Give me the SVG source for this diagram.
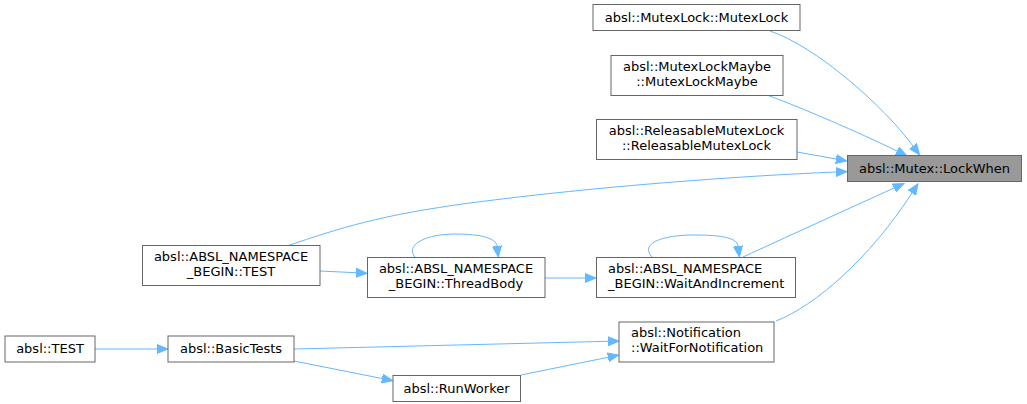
<svg xmlns="http://www.w3.org/2000/svg" width="1027" height="404" viewBox="0 0 1027 404">
<style>
.n rect{fill:#ffffff;stroke:#666666;stroke-width:1}
.n.hl rect{fill:#999999}
.n text{font-family:"DejaVu Sans",sans-serif;font-size:13px;fill:#000000}
.c{text-anchor:middle}
.e path{fill:none;stroke:#63b8ff;stroke-width:1;marker-end:url(#ah)}
</style>
<defs>
<marker id="ah" markerUnits="userSpaceOnUse" markerWidth="12" markerHeight="10" refX="0" refY="5" orient="auto">
<path d="M0,0.5 L11,5 L0,9.5 z" fill="#63b8ff" stroke="#63b8ff" stroke-width="1"/>
</marker>
</defs>
<g id="edges" class="e">
<path d="M770,31 C815,46 882,104 913,146"/>
<path d="M767,95 C800,107 860,133 897,151"/>
<path d="M797,152 L836,159"/>
<path d="M287,246 C340,228 380,215 470,203 C600,186 740,176 836,172"/>
<path d="M743,257 C780,240 850,208 894,188"/>
<path d="M776,321 C815,306 870,258 912,193"/>
<path d="M320,271 L356,272.7"/>
<path d="M415,257 C405,245 425,234 456,234 C480,234 496,238 497,246"/>
<path d="M545,278 L585,278"/>
<path d="M652,257 C640,244 660,235 695,235 C722,235 737,238 738,246"/>
<path d="M95,349 L157,349"/>
<path d="M294,361 L382,378.5"/>
<path d="M294,349 L608,341.3"/>
<path d="M521,375 L608,357.3"/>
</g>
<g id="node-lockwhen" class="n hl"><rect x="847.5" y="155.5" width="174" height="26"/><text class="c" x="934.5" y="172.5">absl::Mutex::LockWhen</text></g>
<g id="node-mutexlock" class="n"><rect x="593" y="4.5" width="207" height="26"/><text class="c" x="696.5" y="21.5">absl::MutexLock::MutexLock</text></g>
<g id="node-mutexlockmaybe" class="n"><rect x="611" y="55.5" width="172" height="40"/><text class="c" x="697" y="70.5">absl::MutexLockMaybe</text><text class="c" x="697" y="85.5">::MutexLockMaybe</text></g>
<g id="node-releasable" class="n"><rect x="596.5" y="119.5" width="200.5" height="40"/><text class="c" x="696.5" y="134.5">absl::ReleasableMutexLock</text><text class="c" x="696.5" y="149.5">::ReleasableMutexLock</text></g>
<g id="node-nstest" class="n"><rect x="142.5" y="245.5" width="177.5" height="40"/><text class="c" x="231" y="261">absl::ABSL_NAMESPACE</text><text class="c" x="231" y="276">_BEGIN::TEST</text></g>
<g id="node-threadbody" class="n"><rect x="367.5" y="257.5" width="177.5" height="40"/><text class="c" x="456" y="273">absl::ABSL_NAMESPACE</text><text class="c" x="456" y="288">_BEGIN::ThreadBody</text></g>
<g id="node-waitandincrement" class="n"><rect x="596.5" y="257.5" width="199" height="40"/><text x="608" y="273">absl::ABSL_NAMESPACE</text><text x="608" y="288">_BEGIN::WaitAndIncrement</text></g>
<g id="node-test" class="n"><rect x="5" y="336" width="90" height="26"/><text class="c" x="50" y="353">absl::TEST</text></g>
<g id="node-basictests" class="n"><rect x="168" y="336" width="126" height="26"/><text class="c" x="231" y="353">absl::BasicTests</text></g>
<g id="node-runworker" class="n"><rect x="393" y="375.5" width="127.5" height="26"/><text class="c" x="456.5" y="392.5">absl::RunWorker</text></g>
<g id="node-notification" class="n"><rect x="619" y="322" width="155" height="40"/><text x="631" y="337">absl::Notification</text><text x="631" y="352">::WaitForNotification</text></g>
</svg>
